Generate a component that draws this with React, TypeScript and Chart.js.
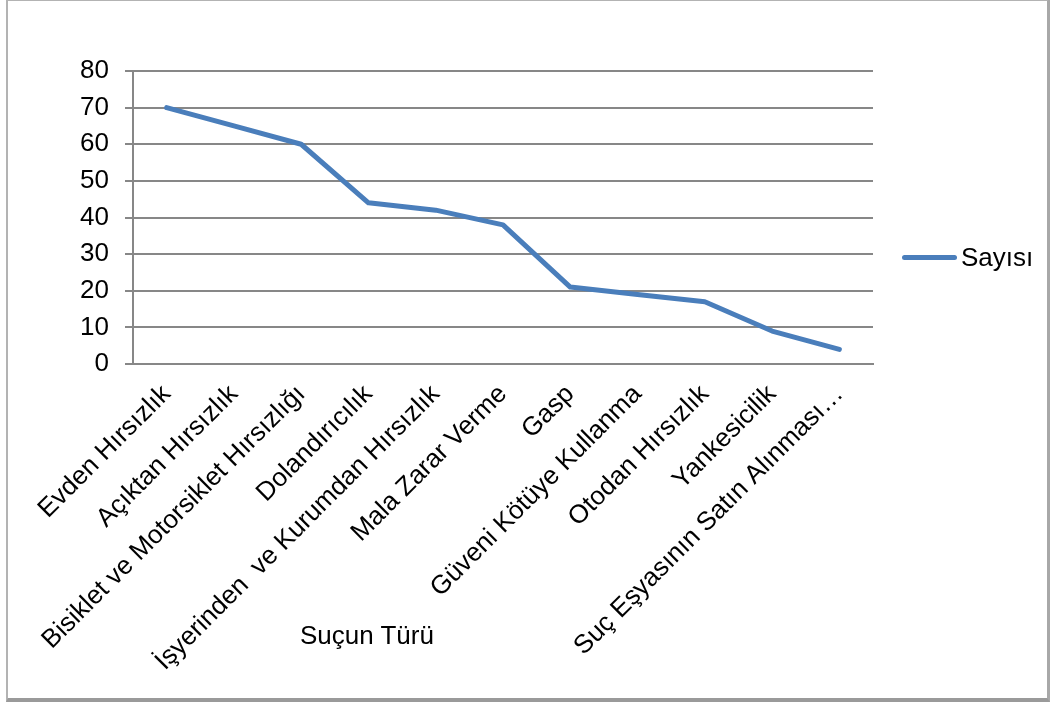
import React, { useEffect, useRef } from "react";
import { Chart, registerables } from "chart.js";

Chart.register(...registerables);

const categories: string[] = [
  "Evden Hırsızlık",
  "Açıktan Hırsızlık",
  "Bisiklet ve Motorsiklet Hırsızlığı",
  "Dolandırıcılık",
  "İşyerinden  ve Kurumdan Hırsızlık",
  "Mala Zarar Verme",
  "Gasp",
  "Güveni Kötüye Kullanma",
  "Otodan Hırsızlık",
  "Yankesicilik",
  "Suç Eşyasının Satın Alınması…",
];
const sayisi: number[] = [70, 65, 60, 44, 42, 38, 21, 19, 17, 9, 4];
const seriesName = "Sayısı";
const xTitle = "Suçun Türü";
const yMin = 0;
const yMax = 80;
const yStep = 10;

const FONT = "'Liberation Sans', Arial, sans-serif";
const LINE_COLOR = "#4a7ebb";
const GRID_COLOR = "#878787";

export default function App() {
  const ref = useRef<HTMLCanvasElement | null>(null);

  useEffect(() => {
    if (!ref.current) return;
    const chart = new Chart(ref.current, {
      type: "line",
      data: {
        labels: categories,
        datasets: [
          {
            label: seriesName,
            data: sayisi,
            borderColor: LINE_COLOR,
            backgroundColor: LINE_COLOR,
            borderWidth: 5,
            pointRadius: 0,
            pointHoverRadius: 0,
            tension: 0,
            borderCapStyle: "round",
            borderJoinStyle: "round",
            fill: false,
          },
        ],
      },
      options: {
        animation: false,
        responsive: false,
        maintainAspectRatio: false,
        layout: { padding: { left: 60, top: 71, right: 178, bottom: 10 } },
        plugins: {
          legend: { display: false },
          tooltip: { enabled: false },
        },
        scales: {
          x: {
            offset: true,
            grid: { display: false, drawTicks: false },
            border: { display: true, color: GRID_COLOR, width: 2 },
            ticks: {
              autoSkip: false,
              minRotation: 45,
              maxRotation: 45,
              padding: 15,
              color: "#000",
              font: { family: FONT, size: 26 },
            },
            afterFit: (s: any) => {
              s.height = 704 - 10 - 364;
            },
          },
          y: {
            min: yMin,
            max: yMax,
            grid: {
              color: GRID_COLOR,
              lineWidth: 2,
              drawTicks: true,
              tickLength: 8,
            },
            border: { display: true, color: GRID_COLOR, width: 2 },
            ticks: {
              stepSize: yStep,
              padding: 16,
              color: "#000",
              font: { family: FONT, size: 26 },
            },
            afterFit: (s: any) => {
              s.width = 133 - 60;
            },
          },
        },
      },
    });
    return () => chart.destroy();
  }, []);

  return (
    <div>
      <div
        style={{
          position: "fixed",
          left: 6,
          top: -1,
          width: 1044,
          height: 703,
          boxSizing: "border-box",
          border: "2px solid #b3b3b3",
          borderRight: "3px solid #a8a8a8",
          borderBottom: "4px solid #9a9a9a",
          background: "#fff",
        }}
      />
      <canvas
        ref={ref}
        width={1051}
        height={704}
        style={{ position: "fixed", left: 0, top: 0, width: 1051, height: 704 }}
      />
      <div
        style={{
          position: "fixed",
          left: 902,
          top: 255,
          width: 55,
          height: 5,
          borderRadius: 3,
          background: LINE_COLOR,
        }}
      />
      <div
        style={{
          position: "fixed",
          left: 961,
          top: 244,
          fontFamily: FONT,
          fontSize: 26,
          lineHeight: "26px",
          color: "#000",
          whiteSpace: "nowrap",
        }}
      >
        {seriesName}
      </div>
      <div
        style={{
          position: "fixed",
          left: 300,
          top: 622,
          fontFamily: FONT,
          fontSize: 26,
          lineHeight: "26px",
          color: "#000",
          whiteSpace: "nowrap",
        }}
      >
        {xTitle}
      </div>
    </div>
  );
}
